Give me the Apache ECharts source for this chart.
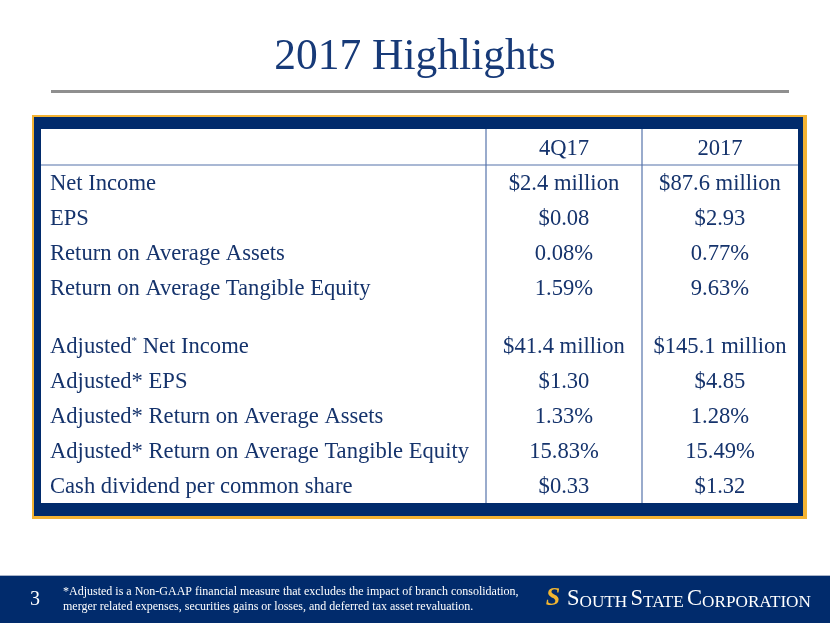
<!DOCTYPE html>
<html>
<head>
<meta charset="utf-8">
<script src="https://cdn.jsdelivr.net/npm/echarts@6/dist/echarts.min.js"></script>
<style>
  html, body { margin: 0; padding: 0; background: #fff; }
  #chart { width: 830px; height: 623px; }
</style>
</head>
<body>
<div id="chart"></div>
<script>
// table content
var columns = ["", "4Q17", "2017"];
var metrics = [
  "Net Income",
  "EPS",
  "Return on Average Assets",
  "Return on Average Tangible Equity",
  "",
  "Adjusted{sup|*} Net Income",
  "Adjusted* EPS",
  "Adjusted* Return on Average Assets",
  "Adjusted* Return on Average Tangible Equity",
  "Cash dividend per common share"
];
var q4Values = ["$2.4 million", "$0.08", "0.08%", "1.59%", "", "$41.4 million", "$1.30", "1.33%", "15.83%", "$0.33"];
var fyValues = ["$87.6 million", "$2.93", "0.77%", "9.63%", "", "$145.1 million", "$4.85", "1.28%", "15.49%", "$1.32"];

// layout of the table (widths / heights in axis units)
var colWidths = [445, 156, 156];
var rowHeights = [36, 35, 35, 35, 35, 23, 35, 35, 35, 35, 35];

var navy = "#012b6c";
var textBlue = "#15336c";
var lineBlue = "#5573aa";
var serif = "Georgia, 'Liberation Serif', serif";

var colEdges = [0];
colWidths.forEach(function (w, i) { colEdges.push(colEdges[i] + w); });
var rowEdges = [0];
rowHeights.forEach(function (h, i) { rowEdges.push(rowEdges[i] + h); });

// rows: header first, then metrics
var rowsText = [columns].concat(metrics.map(function (m, i) {
  return [m, q4Values[i], fyValues[i]];
}));
var cells = [];
rowsText.forEach(function (r, ri) {
  r.forEach(function (t, ci) {
    cells.push({ value: [ci, ri], text: t });
  });
});

var echart = echarts.init(document.getElementById("chart"));

var options = {
  backgroundColor: "#fff",
  animation: false,
  title: {
    text: "2017 Highlights",
    left: "center",
    top: 31,
    textStyle: {
      fontFamily: serif,
      fontWeight: "normal",
      fontSize: 43.5,
      color: "#173a78"
    }
  },
  grid: {
    left: 41,
    top: 129,
    width: 757,
    height: 374
  },
  xAxis: {
    type: "value",
    min: 0,
    max: colEdges[colEdges.length - 1],
    show: false
  },
  yAxis: {
    type: "value",
    min: 0,
    max: rowEdges[rowEdges.length - 1],
    inverse: true,
    show: false
  },
  graphic: [
    // rule under title
    { type: "rect", shape: { x: 51, y: 90, width: 738, height: 3 }, style: { fill: "#8f8f8f" }, z: 0 },
    // gold outline + navy frame + white panel
    { type: "rect", shape: { x: 32, y: 115, width: 775, height: 404 }, style: { fill: "#f4b333" }, z: -3 },
    { type: "rect", shape: { x: 34, y: 117, width: 769, height: 399 }, style: { fill: navy }, z: -2 },
    { type: "rect", shape: { x: 41, y: 129, width: 757, height: 374 }, style: { fill: "#fff" }, z: -1 },
    // footer bar
    { type: "rect", shape: { x: 0, y: 576, width: 830, height: 47 }, style: { fill: navy }, z: 0 },
    { type: "rect", shape: { x: 0, y: 575, width: 830, height: 1 }, style: { fill: "#a9b4c9" }, z: 0 },
    {
      type: "text", x: 35, y: 600, z: 2,
      style: { text: "3", fill: "#fff", font: "20px " + serif, verticalAlign: "middle", align: "center" }
    },
    {
      type: "text", x: 63, y: 599, z: 2,
      style: {
        text: "*Adjusted is a Non-GAAP financial measure that excludes the impact of branch consolidation,\nmerger related expenses, securities gains or losses, and deferred tax asset revaluation.",
        fill: "#fff", fontFamily: serif, fontSize: 12, lineHeight: 15, verticalAlign: "middle", align: "left"
      }
    },
    {
      type: "text", x: 553, y: 598, z: 2,
      style: { text: "S", fill: "#f2b631", fontFamily: serif, fontWeight: "bold", fontStyle: "italic", fontSize: 26, align: "center", verticalAlign: "middle" }
    },
    {
      type: "text", x: 567, y: 600, z: 2,
      style: {
        text: "{b|S}{s|OUTH} {b|S}{s|TATE} {b|C}{s|ORPORATION}",
        fill: "#fff", align: "left", verticalAlign: "middle",
        rich: {
          b: { fontFamily: serif, fontSize: 22.5, fill: "#fff", verticalAlign: "bottom", lineHeight: 22 },
          s: { fontFamily: serif, fontSize: 17.2, fill: "#fff", verticalAlign: "bottom", lineHeight: 22 }
        }
      }
    }
  ],
  series: [
    {
      type: "custom",
      data: cells,
      clip: false,
      renderItem: function (params, api) {
        var ci = api.value(0);
        var ri = api.value(1);
        var p0 = api.coord([colEdges[ci], rowEdges[ri]]);
        var p1 = api.coord([colEdges[ci + 1], rowEdges[ri + 1]]);
        var children = [];
        var isLabel = ci === 0;
        children.push({
          type: "text",
          style: {
            text: cells[params.dataIndex].text,
            x: isLabel ? p0[0] + 9 : (p0[0] + p1[0]) / 2,
            y: (p0[1] + p1[1]) / 2 + 2,
            align: isLabel ? "left" : "center",
            verticalAlign: "middle",
            fontFamily: serif,
            fontSize: 22.6,
            fill: textBlue,
            rich: {
              sup: { fontFamily: serif, fontSize: 11, fill: textBlue, verticalAlign: "top", padding: [0, 0, 10, 0] }
            }
          }
        });
        if (ci < colWidths.length - 1) {
          children.push({
            type: "line",
            shape: { x1: p1[0], y1: p0[1], x2: p1[0], y2: p1[1] },
            style: { stroke: lineBlue, lineWidth: 1.2 }
          });
        }
        if (ri === 0) {
          children.push({
            type: "line",
            shape: { x1: p0[0], y1: p1[1], x2: p1[0], y2: p1[1] },
            style: { stroke: lineBlue, lineWidth: 1.2 }
          });
        }
        return { type: "group", children: children };
      }
    }
  ]
};

echart.setOption(options);
window.addEventListener("resize", function () {
  echart.resize();
});
</script>
</body>
</html>
